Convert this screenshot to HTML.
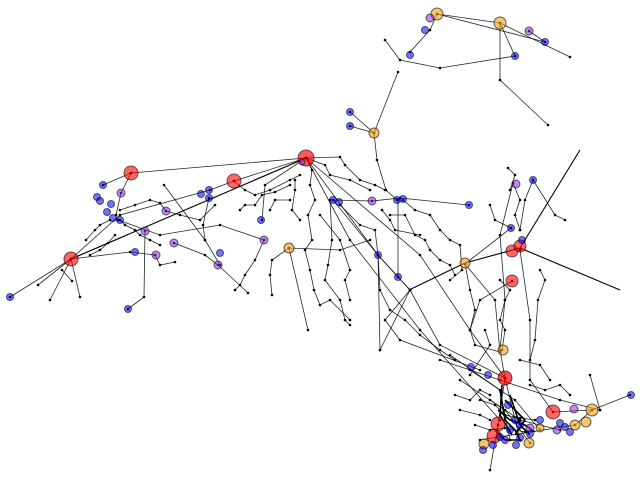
<!DOCTYPE html>
<html><head><style>html,body{margin:0;padding:0;background:#fff}svg{display:block}</style></head><body>
<svg width="640" height="480" viewBox="0 0 640 480" xmlns="http://www.w3.org/2000/svg">
<defs><marker id="d" markerUnits="userSpaceOnUse" markerWidth="4" markerHeight="4" refX="2" refY="2"><circle cx="2" cy="2" r="1.3" fill="#000"/></marker></defs>
<g stroke="#000" stroke-width="0.8" fill="none" stroke-opacity="0.85" marker-start="url(#d)" marker-mid="url(#d)" marker-end="url(#d)">
<polyline points="437,14 500,23 570,57"/><polyline points="437,14 545,42 529,31"/><polyline points="437,14 430,30 410,52"/>
<polyline points="500,23 500,80 548,125"/><polyline points="500,23 515,56"/><polyline points="385,40 400,60 440,68 515,56"/>
<polyline points="398,72 374,133"/><polyline points="374,133 377,160 386,190 397,200"/><polyline points="350,112 374,133"/><polyline points="350,126 374,133"/>
<polyline points="131,173 306,158"/><polyline points="103,185 131,173 121,193 116,215"/>
<polyline points="10,297 71,259 306,158"/><polyline points="71,259 120,215 210,190 234,181 306,158"/>
<polyline points="71,259 130,252 155,255"/><polyline points="71,259 50,300"/><polyline points="71,259 80,297"/><polyline points="71,259 38,285"/><polyline points="62,270 72,281"/>
<polyline points="145,231 144,297 128,309"/><polyline points="155,255 160,265 175,262"/><polyline points="174,243 205,255 218,265 248,293"/>
<polyline points="164,185 205,240 220,265"/><polyline points="205,240 203,225 209,198"/>
<polyline points="120,210 135,205 150,200 160,203 166,211 180,215 200,220 215,205"/>
<polyline points="120,220 125,225 135,230 140,235 150,240 160,245"/>
<polyline points="86,240 95,230 100,225 110,220"/><polyline points="90,255 100,250 108,243 115,235"/>
<polyline points="118,220 160,235 220,225 264,240"/>
<polyline points="234,181 245,190 255,195 270,190 290,180 300,175"/>
<polyline points="240,210 245,205 255,205 262,195 275,192 290,185"/>
<polyline points="270,210 275,200 290,200"/><polyline points="295,180 295,190 292,210 300,220"/>
<polyline points="264,240 255,260 245,275 240,285 235,290"/>
<polyline points="306,158 265,185 262,220"/>
<polyline points="306,158 312,170 310,185 315,200 308,215 312,240 305,250 310,270 314,290 320,305 330,300 350,320"/>
<polyline points="330,200 332,240 328,265 325,280 340,300 345,320 350,325"/>
<polyline points="340,205 360,225 375,230 378,255"/>
<polyline points="378,255 380,290 390,310 405,320 420,335 440,350 455,360"/>
<polyline points="320,215 340,240 350,270 345,280 350,300"/>
<polyline points="289,248 340,250 370,240"/><polyline points="289,248 308,330"/><polyline points="289,248 272,260 270,275 272,295"/>
<polyline points="306,158 325,165 330,175 350,180 370,190"/>
<polyline points="306,158 340,157 345,165 360,180 375,185 385,190"/>
<polyline points="333,200 372,201 400,198 469,205"/>
<polyline points="306,158 378,255 398,277 410,290"/>
<polyline points="306,158 420,255 470,330 505,378"/>
<polyline points="306,158 350,240 420,330 500,420"/>
<polyline points="333,200 378,255 410,290"/><polyline points="398,200 398,277"/>
<polyline points="403,200 415,210 430,215 440,230 450,240 460,245 462,270 450,280"/>
<polyline points="390,215 405,215 415,235 425,240 430,250 440,260 450,265 455,275"/>
<polyline points="382,210 390,220 395,230 420,235"/>
<polyline points="410,290 380,350"/><polyline points="378,255 380,350"/><polyline points="410,290 385,320 400,340 480,370"/>
<polyline points="410,290 440,345 505,378"/>
<polyline points="465,264 470,290 475,310 470,330 475,345 500,352"/>
<polyline points="465,264 495,300 500,352"/><polyline points="465,264 511,228"/>
<polyline points="490,205 495,220 511,228"/>
<polyline points="513,183 520,200 515,215 520,230"/><polyline points="508,168 515,175 510,190"/>
<polyline points="533,180 525,200 520,230"/>
<polyline points="540,270 545,280 538,300 535,340 530,360"/>
<polyline points="500,280 510,290 505,300 500,320 505,330 502,350"/>
<polyline points="485,330 490,345 470,375"/>
<polyline points="513,183 500,235 505,300 500,350 505,378"/>
<polyline points="520,250 530,320 530,380 553,412 592,410 630,395"/>
<polyline points="512,281 480,300 470,330"/>
<polyline points="533,180 555,215 565,220"/>
<polyline points="505,378 498,425"/><polyline points="505,378 520,440"/>
<polyline points="440,360 500,380 560,400 600,410"/><polyline points="480,440 575,425 592,410"/>
<polyline points="590,375 600,410"/><polyline points="498,425 490,470"/>
<polyline points="450,355 500,390 510,440"/><polyline points="470,370 515,400 540,430"/>
<polyline points="460,380 505,410 530,443"/><polyline points="490,400 520,420 560,430"/>
<polyline points="455,395 470,400 480,390 490,395"/><polyline points="530,385 545,390 560,385 570,395"/>
<polyline points="520,360 540,365 550,380"/><polyline points="460,410 480,415 490,420"/>
<polyline points="480,400 495,405 505,415 520,418 535,420"/><polyline points="475,425 490,430 505,428 525,432"/>
</g>
<g stroke="#000" stroke-width="1.1" fill="none">
<polyline points="409,290 465,263 520,248"/><polyline points="520,248 620,290"/><polyline points="520,248 580,150"/>
<polyline points="71,259 306,158"/>
</g>
<g stroke="#000" stroke-width="1.6" fill="none">
<polyline points="500,390 505,420 515,430 520,440 505,440 495,430"/><polyline points="510,395 520,425 530,435"/><polyline points="502,385 500,415 512,435"/>
<polyline points="505,400 515,410 525,420 515,435"/><polyline points="498,410 510,420 525,425 535,432"/>
</g>
<g stroke="#000" stroke-opacity="0.6">
<circle cx="306" cy="158" r="8" fill="#f00" fill-opacity="0.65"/>
<circle cx="131" cy="173" r="7" fill="#f00" fill-opacity="0.6"/>
<circle cx="234" cy="181" r="7" fill="#f00" fill-opacity="0.6"/>
<circle cx="71" cy="259" r="7" fill="#f00" fill-opacity="0.6"/>
<circle cx="512" cy="251" r="6" fill="#f00" fill-opacity="0.6"/>
<circle cx="520" cy="246" r="6" fill="#f00" fill-opacity="0.6"/>
<circle cx="512" cy="281" r="6" fill="#f00" fill-opacity="0.6"/>
<circle cx="505" cy="378" r="7" fill="#f00" fill-opacity="0.7"/>
<circle cx="553" cy="412" r="7" fill="#f00" fill-opacity="0.6"/>
<circle cx="498" cy="424" r="7" fill="#f00" fill-opacity="0.6"/>
<circle cx="494" cy="436" r="7" fill="#f00" fill-opacity="0.6"/>
<g fill="#f5a623" fill-opacity="0.65">
<circle cx="437" cy="14" r="6"/><circle cx="500" cy="23" r="6"/><circle cx="374" cy="133" r="5"/><circle cx="289" cy="248" r="5"/>
<circle cx="465" cy="263" r="5"/><circle cx="503" cy="350" r="5"/><circle cx="592" cy="410" r="6"/><circle cx="575" cy="425" r="5"/>
<circle cx="586" cy="422" r="5"/><circle cx="529" cy="443" r="5"/><circle cx="484" cy="444" r="5"/><circle cx="540" cy="428" r="4"/>
</g>
<g fill="#8a2be2" fill-opacity="0.55">
<circle cx="121" cy="193" r="4"/><circle cx="166" cy="211" r="4"/><circle cx="145" cy="231" r="4"/><circle cx="174" cy="243" r="4"/>
<circle cx="156" cy="255" r="4"/><circle cx="218" cy="265" r="4"/><circle cx="264" cy="240" r="4"/><circle cx="372" cy="201" r="4"/>
<circle cx="529" cy="31" r="4"/><circle cx="516" cy="184" r="4"/><circle cx="430" cy="18" r="4"/>
<circle cx="574" cy="409" r="4"/><circle cx="530" cy="428" r="4"/><circle cx="557" cy="430" r="4"/><circle cx="302" cy="162" r="3"/>
</g>
<g fill="#00f" fill-opacity="0.55">
<circle cx="10" cy="297" r="3.5"/><circle cx="128" cy="309" r="3.5"/><circle cx="103" cy="185" r="3.5"/><circle cx="97" cy="197" r="3.5"/>
<circle cx="100" cy="201" r="3.5"/><circle cx="111" cy="204" r="3.5"/><circle cx="107" cy="212" r="3.5"/><circle cx="113" cy="218" r="3.5"/>
<circle cx="120" cy="220" r="3.5"/><circle cx="135" cy="252" r="3.5"/><circle cx="201" cy="194" r="3.5"/><circle cx="209" cy="190" r="3.5"/>
<circle cx="209" cy="198" r="3.5"/><circle cx="220" cy="253" r="3.5"/><circle cx="261" cy="220" r="3.5"/>
<circle cx="410" cy="55" r="3.5"/><circle cx="425" cy="30" r="3.5"/><circle cx="515" cy="56" r="3.5"/><circle cx="545" cy="42" r="3.5"/>
<circle cx="350" cy="112" r="3.5"/><circle cx="350" cy="126" r="3.5"/><circle cx="333" cy="200" r="3.5"/><circle cx="339" cy="202" r="3.5"/><circle cx="397" cy="200" r="3.5"/>
<circle cx="403" cy="199" r="3.5"/><circle cx="469" cy="205" r="3.5"/><circle cx="378" cy="255" r="3.5"/><circle cx="398" cy="277" r="3.5"/>
<circle cx="533" cy="180" r="3.5"/><circle cx="511" cy="228" r="3.5"/><circle cx="522" cy="240" r="3.5"/><circle cx="471" cy="367" r="3.5"/><circle cx="488" cy="375" r="3.5"/>
<circle cx="631" cy="395" r="3.5"/><circle cx="508" cy="405" r="3.5"/><circle cx="515" cy="420" r="3.5"/><circle cx="510" cy="430" r="3.5"/>
<circle cx="520" cy="425" r="3.5"/><circle cx="505" cy="440" r="3.5"/><circle cx="483" cy="450" r="3.5"/><circle cx="493" cy="445" r="3.5"/>
<circle cx="540" cy="420" r="3.5"/><circle cx="560" cy="423" r="3.5"/><circle cx="565" cy="427" r="3.5"/><circle cx="520" cy="438" r="3.5"/>
<circle cx="530" cy="434" r="3.5"/><circle cx="500" cy="437" r="3.5"/><circle cx="516" cy="445" r="3.5"/><circle cx="570" cy="432" r="3.5"/>
</g>
</g>
</svg>
</body></html>
